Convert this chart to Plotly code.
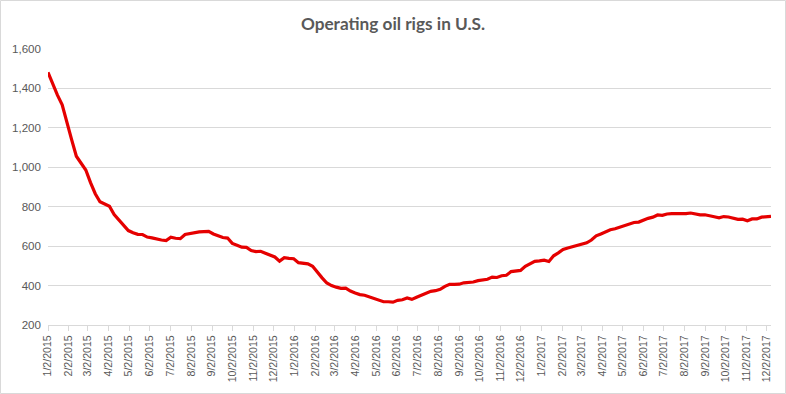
import datetime as dt
import plotly.graph_objects as go

start_date = "2015-01-02"
rigs = [
    # 2015
    1482, 1421, 1366, 1317, 1223, 1140, 1056, 1019, 986, 922, 866, 825, 813,
    802, 760, 734, 703, 679, 668, 660, 659, 646, 642, 635, 631, 628, 645, 640,
    638, 659, 664, 670, 672, 674, 675, 662, 652, 644, 641, 614, 605, 595, 594,
    578, 572, 574, 564, 555, 545, 524, 541, 538, 536,
    # 2016
    516, 515, 510, 498, 467, 439, 413, 400, 392, 386, 387, 372, 362, 354, 351,
    343, 332, 328, 318, 318, 316, 325, 328, 337, 330, 341, 351, 357, 371, 374,
    381, 396, 406, 406, 407, 414, 416, 418, 425, 428, 432, 443, 441, 450, 452,
    471, 474, 477, 498, 510, 523, 525,
    # 2017
    529, 522, 551, 566, 583, 591, 597, 602, 609, 617, 631, 652, 662, 672, 683,
    688, 697, 703, 712, 720, 722, 733, 741, 747, 758, 756, 763, 765, 764, 766,
    765, 768, 763, 759, 759, 756, 749, 744, 750, 748, 743, 736, 737, 729, 738,
    738, 747, 749, 751,
]
y_ticks = [200, 400, 600, 800, 1000, 1200, 1400, 1600]
title_text = "Operating oil rigs in U.S."

d0 = dt.date.fromisoformat(start_date)
dates = [d0 + dt.timedelta(days=7 * i) for i in range(len(rigs))]

tick_dates = []
for yr in (2015, 2016, 2017):
    for m in range(1, 13):
        tick_dates.append(dt.date(yr, m, 2))
tick_text = [f"{d.month}/{d.day}/{d.year}" for d in tick_dates]

L, R, T, B = 48, 15, 49, 69
PW, PH = 786 - L - R, 394 - T - B

fig = go.Figure()
fig.add_trace(go.Scatter(
    x=dates, y=rigs, mode="lines",
    line=dict(color="#E50000", width=3.2),
    hoverinfo="x+y",
))

fig.update_layout(
    width=786, height=394,
    margin=dict(l=L, r=R, t=T, b=B, autoexpand=False),
    paper_bgcolor="white", plot_bgcolor="white",
    showlegend=False,
    title=dict(text=f"<b>{title_text}</b>", x=0.5, xanchor="center",
               y=1 - 24 / 394, yanchor="middle",
               font=dict(family="Lato", size=17.2, color="#595959")),
    font=dict(family="Liberation Sans", size=11, color="#595959"),
)
fig.update_xaxes(
    range=[dates[0], dates[-1]], automargin=False,
    tickmode="array", tickvals=tick_dates, ticktext=tick_text,
    tickangle=-90, showgrid=False,
    showline=True, linecolor="#D9D9D9", linewidth=1,
    ticks="outside", ticklen=5, tickcolor="#D9D9D9",
    tickfont=dict(family="Liberation Sans", size=10.6, color="#595959"),
)
fig.update_yaxes(
    range=[200, 1600], tickvals=y_ticks, automargin=False,
    tickformat=",d",
    showgrid=True, gridcolor="#D9D9D9", gridwidth=1,
    zeroline=False, showline=False, ticks="", ticklabelstandoff=6,
    tickfont=dict(family="Liberation Sans", size=11.6, color="#595959"),
)
fig.add_shape(type="rect", xref="paper", yref="paper",
              x0=-(L - 0.5) / PW, x1=1 + (R - 0.5) / PW,
              y0=-(B - 0.5) / PH, y1=1 + (T - 0.5) / PH,
              line=dict(color="#D9D9D9", width=1), layer="below")

fig.write_html("out.html",
               config={"displayModeBar": False},
               post_script="document.body.style.margin='0';document.body.style.overflow='hidden';")
